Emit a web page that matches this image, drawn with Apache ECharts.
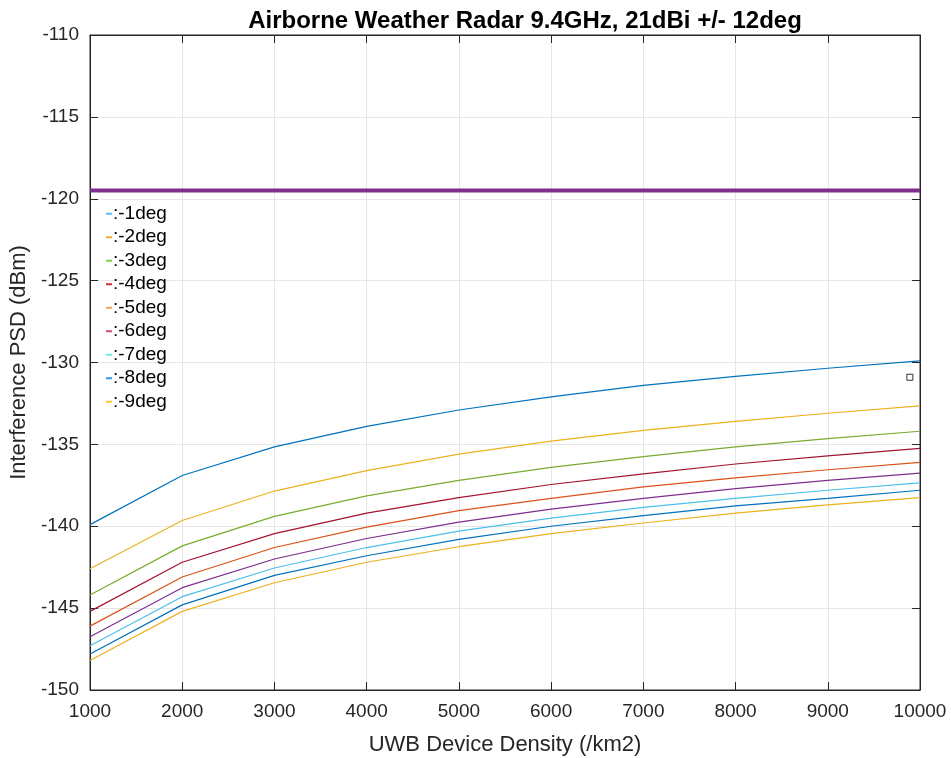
<!DOCTYPE html>
<html><head><meta charset="utf-8">
<script src="https://cdn.jsdelivr.net/npm/echarts@6/dist/echarts.min.js"></script>
<style>html,body{margin:0;padding:0;background:#fff}#c{width:951px;height:758px}</style>
</head><body><div id="c"></div>
<script>
const densities = [1000,2000,3000,4000,5000,6000,7000,8000,9000,10000];
const names = [':-1deg',':-2deg',':-3deg',':-4deg',':-5deg',':-6deg',':-7deg',':-8deg',':-9deg'];
const s1 = [-139.9,-136.9,-135.15,-133.9,-132.9,-132.1,-131.4,-130.85,-130.35,-129.9];
const s2 = [-142.6,-139.65,-137.85,-136.6,-135.6,-134.8,-134.15,-133.6,-133.1,-132.65];
const s3 = [-144.2,-141.2,-139.4,-138.15,-137.2,-136.4,-135.75,-135.15,-134.65,-134.2];
const s4 = [-145.2,-142.2,-140.45,-139.2,-138.25,-137.45,-136.8,-136.2,-135.7,-135.25];
const s5 = [-146.1,-143.1,-141.3,-140.05,-139.05,-138.3,-137.6,-137.05,-136.55,-136.1];
const s6 = [-146.75,-143.75,-142.0,-140.75,-139.75,-138.95,-138.3,-137.7,-137.2,-136.75];
const s7 = [-147.3,-144.3,-142.55,-141.3,-140.3,-139.5,-138.85,-138.3,-137.8,-137.35];
const s8 = [-147.8,-144.8,-143.0,-141.8,-140.8,-140.0,-139.35,-138.75,-138.3,-137.8];
const s9 = [-148.2,-145.2,-143.45,-142.2,-141.25,-140.45,-139.8,-139.2,-138.7,-138.25];
const threshold = [-119.5,-119.5,-119.5,-119.5,-119.5,-119.5,-119.5,-119.5,-119.5,-119.5];
const markerPoint = [[9890,-130.9]];
const yTicks = [-110,-115,-120,-125,-130,-135,-140,-145,-150];

const seriesVals = [s1,s2,s3,s4,s5,s6,s7,s8,s9];
const lineColors = ['#0072BD','#EDB120','#77AC30','#A2142F','#D95319','#7E2F8E','#4DBEEE','#0072BD','#EDB120'];
const legendColors = ['#5cbcf2','#f0a830','#7ccf50','#c8302f','#f0a050','#d04a8a','#7ae6e6','#3399f0','#f5cc30'];

const series = seriesVals.map((v,i)=>({
  name: names[i], type:'line', symbol:'none', silent:true,
  data: densities.map((d,j)=>[d,v[j]]),
  lineStyle:{color:lineColors[i], width:1.2}, itemStyle:{color:legendColors[i]}
}));
series.push({name:'thr', type:'line', symbol:'none', silent:true,
  data: densities.map((d,j)=>[d,threshold[j]]),
  lineStyle:{color:'#7E2F8E', width:4}, z:1});
series.push({name:'mk', type:'scatter', symbol:'rect', symbolSize:6,
  data: markerPoint, itemStyle:{color:'#fff', borderColor:'#000', borderWidth:1}});

const font = 'Helvetica, Arial, "Liberation Sans", sans-serif';
const tickStyle = {inside:true, length:8, lineStyle:{color:'#262626'}};
const chart = echarts.init(document.getElementById('c'), null, {renderer:'canvas'});
chart.setOption({
  animation:false,
  backgroundColor:'#fff',
  title:{text:'Airborne Weather Radar 9.4GHz, 21dBi +/- 12deg', left:520, top:4, textAlign:'center',
    textStyle:{fontFamily:font, fontSize:24, fontWeight:'bold', color:'#000'}},
  grid:{left:90, right:31, top:35, bottom:68, show:true, borderColor:'#262626', borderWidth:1,
    containLabel:false, outerBoundsMode:'none'},
  legend:{
    orient:'vertical', left:101, top:198, itemGap:2, itemWidth:6, itemHeight:2, icon:'rect',
    textStyle:{fontFamily:font, fontSize:19, color:'#000', padding:[0,0,0,-4], lineHeight:21.5},
    data: names.map((n,i)=>({name:n, itemStyle:{color:legendColors[i]}})),
    backgroundColor:'transparent', selectedMode:false
  },
  xAxis:[{type:'value', min:1000, max:10000, interval:1000,
    name:'UWB Device Density (/km2)', nameLocation:'middle', nameGap:44,
    nameTextStyle:{fontFamily:font, fontSize:22, color:'#262626'},
    axisLine:{lineStyle:{color:'#262626'}},
    axisTick:tickStyle,
    axisLabel:{fontFamily:font, fontSize:19, color:'#262626', margin:12, formatter:v=>String(v)},
    splitLine:{show:true, lineStyle:{color:'#e6e6e6'}}},
    {type:'value', position:'top', min:1000, max:10000, interval:1000,
    axisLine:{show:true, lineStyle:{color:'#262626'}}, axisTick:tickStyle, axisLabel:{show:false}, splitLine:{show:false}}],
  yAxis:[{type:'value', min:-150, max:-110, interval:5,
    name:'Interference PSD (dBm)', nameLocation:'middle', nameGap:55,
    nameTextStyle:{fontFamily:font, fontSize:22, color:'#262626'},
    axisLine:{lineStyle:{color:'#262626'}},
    axisTick:tickStyle,
    axisLabel:{fontFamily:font, fontSize:19, color:'#262626', margin:11,
      formatter:v=>yTicks.includes(v)?String(v):''},
    splitLine:{show:true, lineStyle:{color:'#e6e6e6'}}},
    {type:'value', position:'right', min:-150, max:-110, interval:5,
    axisLine:{show:true, lineStyle:{color:'#262626'}}, axisTick:tickStyle, axisLabel:{show:false}, splitLine:{show:false}}],
  series
});
</script></body></html>
